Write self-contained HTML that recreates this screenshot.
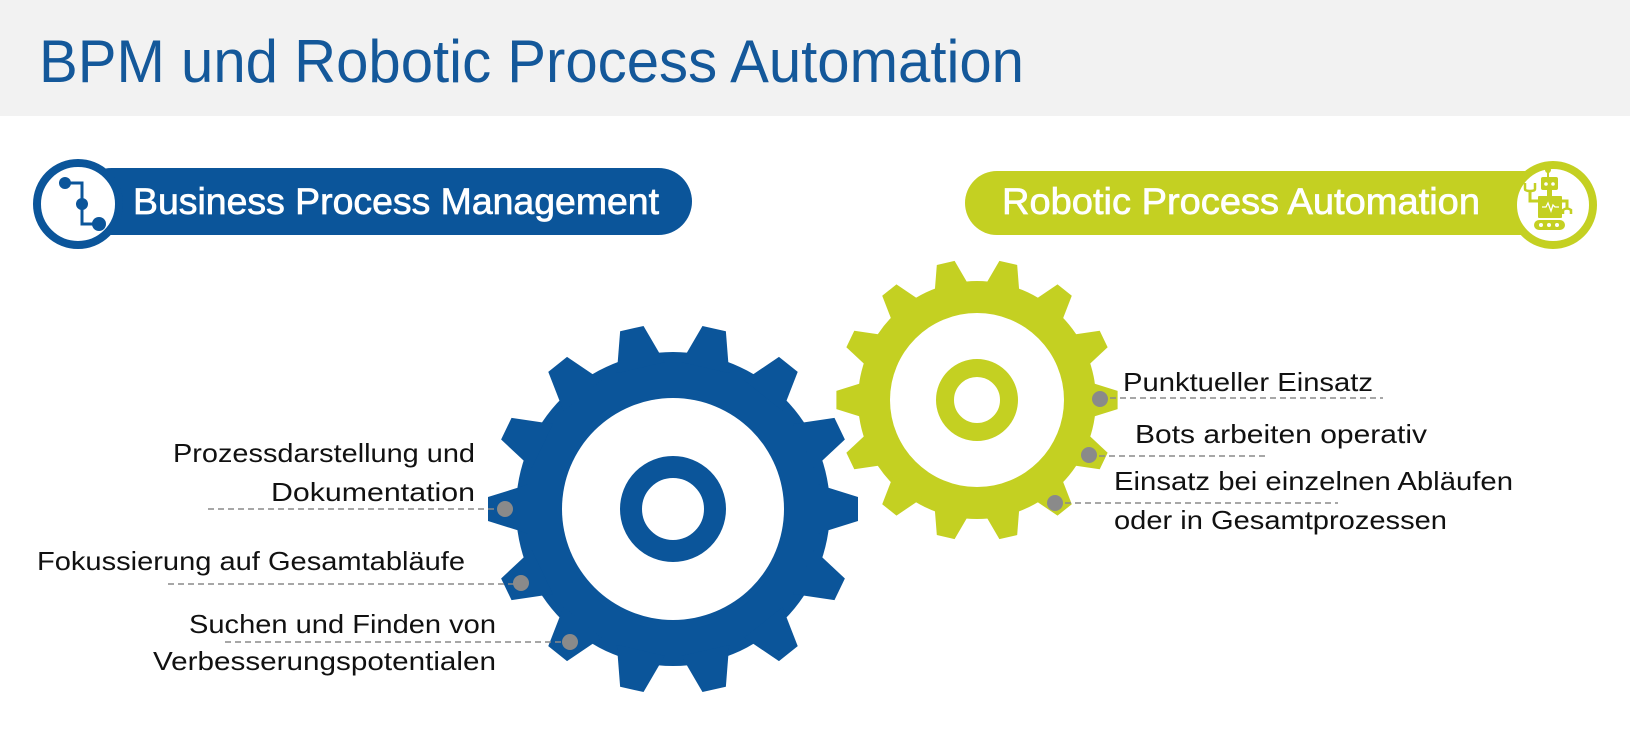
<!DOCTYPE html>
<html>
<head>
<meta charset="utf-8">
<style>
  html,body{margin:0;padding:0;background:#fff;}
  body{width:1630px;height:734px;overflow:hidden;}
  svg{display:block;}
  text{font-family:"Liberation Sans", sans-serif;}
</style>
</head>
<body>
<svg width="1630" height="734" viewBox="0 0 1630 734" xmlns="http://www.w3.org/2000/svg">
  <defs>
    <polygon id="tooth" points="145,-24.5 185,-12 185,12 145,24.5"/>
  </defs>

  <!-- header band -->
  <rect x="0" y="0" width="1630" height="116" fill="#f2f2f2"/>
  <text x="39" y="82" font-size="60" fill="#14589a" textLength="985" lengthAdjust="spacingAndGlyphs">BPM und Robotic Process Automation</text>

  <!-- BPM pill -->
  <rect x="78" y="168" width="614" height="67" rx="33.5" fill="#0b559a"/>
  <circle cx="78" cy="204" r="41" fill="#fff" stroke="#0b559a" stroke-width="8"/>
  <polyline points="65,183 82,183 82,224 99,224" fill="none" stroke="#0b559a" stroke-width="3"/>
  <circle cx="65" cy="183" r="6" fill="#0b559a"/>
  <circle cx="82" cy="204" r="6" fill="#0b559a"/>
  <circle cx="99" cy="224" r="7" fill="#0b559a"/>
  <text x="133" y="214" font-size="37" fill="#fff" stroke="#fff" stroke-width="0.7" textLength="526" lengthAdjust="spacingAndGlyphs">Business Process Management</text>

  <!-- RPA pill -->
  <rect x="965" y="171" width="590" height="64" rx="32" fill="#c4d022"/>
  <circle cx="1553" cy="205" r="40" fill="#fff" stroke="#c4d022" stroke-width="8"/>
  <text x="1002" y="214" font-size="37" fill="#fff" stroke="#fff" stroke-width="0.7" textLength="478" lengthAdjust="spacingAndGlyphs">Robotic Process Automation</text>
  <!-- robot icon -->
  <g fill="#c4d022" stroke="none">
    <circle cx="1548" cy="170" r="3"/>
    <rect x="1547" y="170" width="2" height="8"/>
    <rect x="1541" y="177" width="17" height="13" rx="2"/>
    <rect x="1547" y="190" width="5" height="6"/>
    <rect x="1538" y="196" width="24" height="22" rx="1"/>
    <rect x="1534" y="220" width="31" height="10" rx="5"/>
  </g>
  <circle cx="1546" cy="184" r="1.8" fill="#fff"/>
  <circle cx="1553" cy="184" r="1.8" fill="#fff"/>
  <polyline points="1542,207 1546,207 1548,203 1551,211 1553,205 1555,207 1559,207" fill="none" stroke="#fff" stroke-width="1.3"/>
  <circle cx="1541" cy="225" r="2" fill="#fff"/>
  <circle cx="1549" cy="225" r="2" fill="#fff"/>
  <circle cx="1557" cy="225" r="2" fill="#fff"/>
  <polyline points="1538,201 1530,201 1530,190" fill="none" stroke="#c4d022" stroke-width="3"/>
  <path d="M1525,183 L1525,189 Q1525,191 1530,191 Q1535,191 1535,189 L1535,183" fill="none" stroke="#c4d022" stroke-width="2.5"/>
  <polyline points="1562,201 1567,201 1567,209" fill="none" stroke="#c4d022" stroke-width="3"/>
  <path d="M1563,214 L1563,210 Q1567,207 1571,210 L1571,214" fill="none" stroke="#c4d022" stroke-width="2.5"/>

  <!-- green gear -->
  <g transform="translate(977,400)">
    <circle r="119" fill="#c4d022"/>
    <g fill="#c4d022" transform="scale(0.76)">
      <use href="#tooth" transform="rotate(0)"/>
      <use href="#tooth" transform="rotate(25.714)"/>
      <use href="#tooth" transform="rotate(51.429)"/>
      <use href="#tooth" transform="rotate(77.143)"/>
      <use href="#tooth" transform="rotate(102.857)"/>
      <use href="#tooth" transform="rotate(128.571)"/>
      <use href="#tooth" transform="rotate(154.286)"/>
      <use href="#tooth" transform="rotate(180)"/>
      <use href="#tooth" transform="rotate(205.714)"/>
      <use href="#tooth" transform="rotate(231.429)"/>
      <use href="#tooth" transform="rotate(257.143)"/>
      <use href="#tooth" transform="rotate(282.857)"/>
      <use href="#tooth" transform="rotate(308.571)"/>
      <use href="#tooth" transform="rotate(334.286)"/>
    </g>
    <circle r="87" fill="#fff"/>
    <circle r="32" fill="none" stroke="#c4d022" stroke-width="18"/>
  </g>

  <!-- blue gear -->
  <g transform="translate(673,509)">
    <circle r="157" fill="#0b559a"/>
    <g fill="#0b559a">
      <use href="#tooth" transform="rotate(0)"/>
      <use href="#tooth" transform="rotate(25.714)"/>
      <use href="#tooth" transform="rotate(51.429)"/>
      <use href="#tooth" transform="rotate(77.143)"/>
      <use href="#tooth" transform="rotate(102.857)"/>
      <use href="#tooth" transform="rotate(128.571)"/>
      <use href="#tooth" transform="rotate(154.286)"/>
      <use href="#tooth" transform="rotate(180)"/>
      <use href="#tooth" transform="rotate(205.714)"/>
      <use href="#tooth" transform="rotate(231.429)"/>
      <use href="#tooth" transform="rotate(257.143)"/>
      <use href="#tooth" transform="rotate(282.857)"/>
      <use href="#tooth" transform="rotate(308.571)"/>
      <use href="#tooth" transform="rotate(334.286)"/>
    </g>
    <circle r="111" fill="#fff"/>
    <circle r="42" fill="none" stroke="#0b559a" stroke-width="22"/>
  </g>

  <!-- dashed leader lines -->
  <g stroke="#8a8a8a" stroke-width="1.5" stroke-dasharray="6,4" fill="none">
    <line x1="208" y1="509" x2="505" y2="509"/>
    <line x1="168" y1="584" x2="521" y2="584"/>
    <line x1="225" y1="642" x2="570" y2="642"/>
    <line x1="1100" y1="398" x2="1383" y2="398"/>
    <line x1="1089" y1="456" x2="1265" y2="456"/>
    <line x1="1055" y1="503" x2="1338" y2="503"/>
  </g>

  <!-- gray dots -->
  <g fill="#8a8a8a">
    <circle cx="505" cy="509" r="8"/>
    <circle cx="521" cy="583" r="8"/>
    <circle cx="570" cy="642" r="8"/>
    <circle cx="1100" cy="399" r="8"/>
    <circle cx="1089" cy="455" r="8"/>
    <circle cx="1055" cy="503" r="8"/>
  </g>

  <!-- left labels -->
  <g font-size="26" fill="#111">
    <text x="173" y="462" textLength="302" lengthAdjust="spacingAndGlyphs">Prozessdarstellung und</text>
    <text x="271" y="501" textLength="204" lengthAdjust="spacingAndGlyphs">Dokumentation</text>
    <text x="37" y="570" textLength="428" lengthAdjust="spacingAndGlyphs">Fokussierung auf Gesamtabläufe</text>
    <text x="189" y="633" textLength="307" lengthAdjust="spacingAndGlyphs">Suchen und Finden von</text>
    <text x="153" y="670" textLength="343" lengthAdjust="spacingAndGlyphs">Verbesserungspotentialen</text>
  </g>

  <!-- right labels -->
  <g font-size="26" fill="#111">
    <text x="1123" y="391" textLength="250" lengthAdjust="spacingAndGlyphs">Punktueller Einsatz</text>
    <text x="1135" y="443" textLength="292" lengthAdjust="spacingAndGlyphs">Bots arbeiten operativ</text>
    <text x="1114" y="490" textLength="399" lengthAdjust="spacingAndGlyphs">Einsatz bei einzelnen Abläufen</text>
    <text x="1114" y="529" textLength="333" lengthAdjust="spacingAndGlyphs">oder in Gesamtprozessen</text>
  </g>
</svg>
</body>
</html>
